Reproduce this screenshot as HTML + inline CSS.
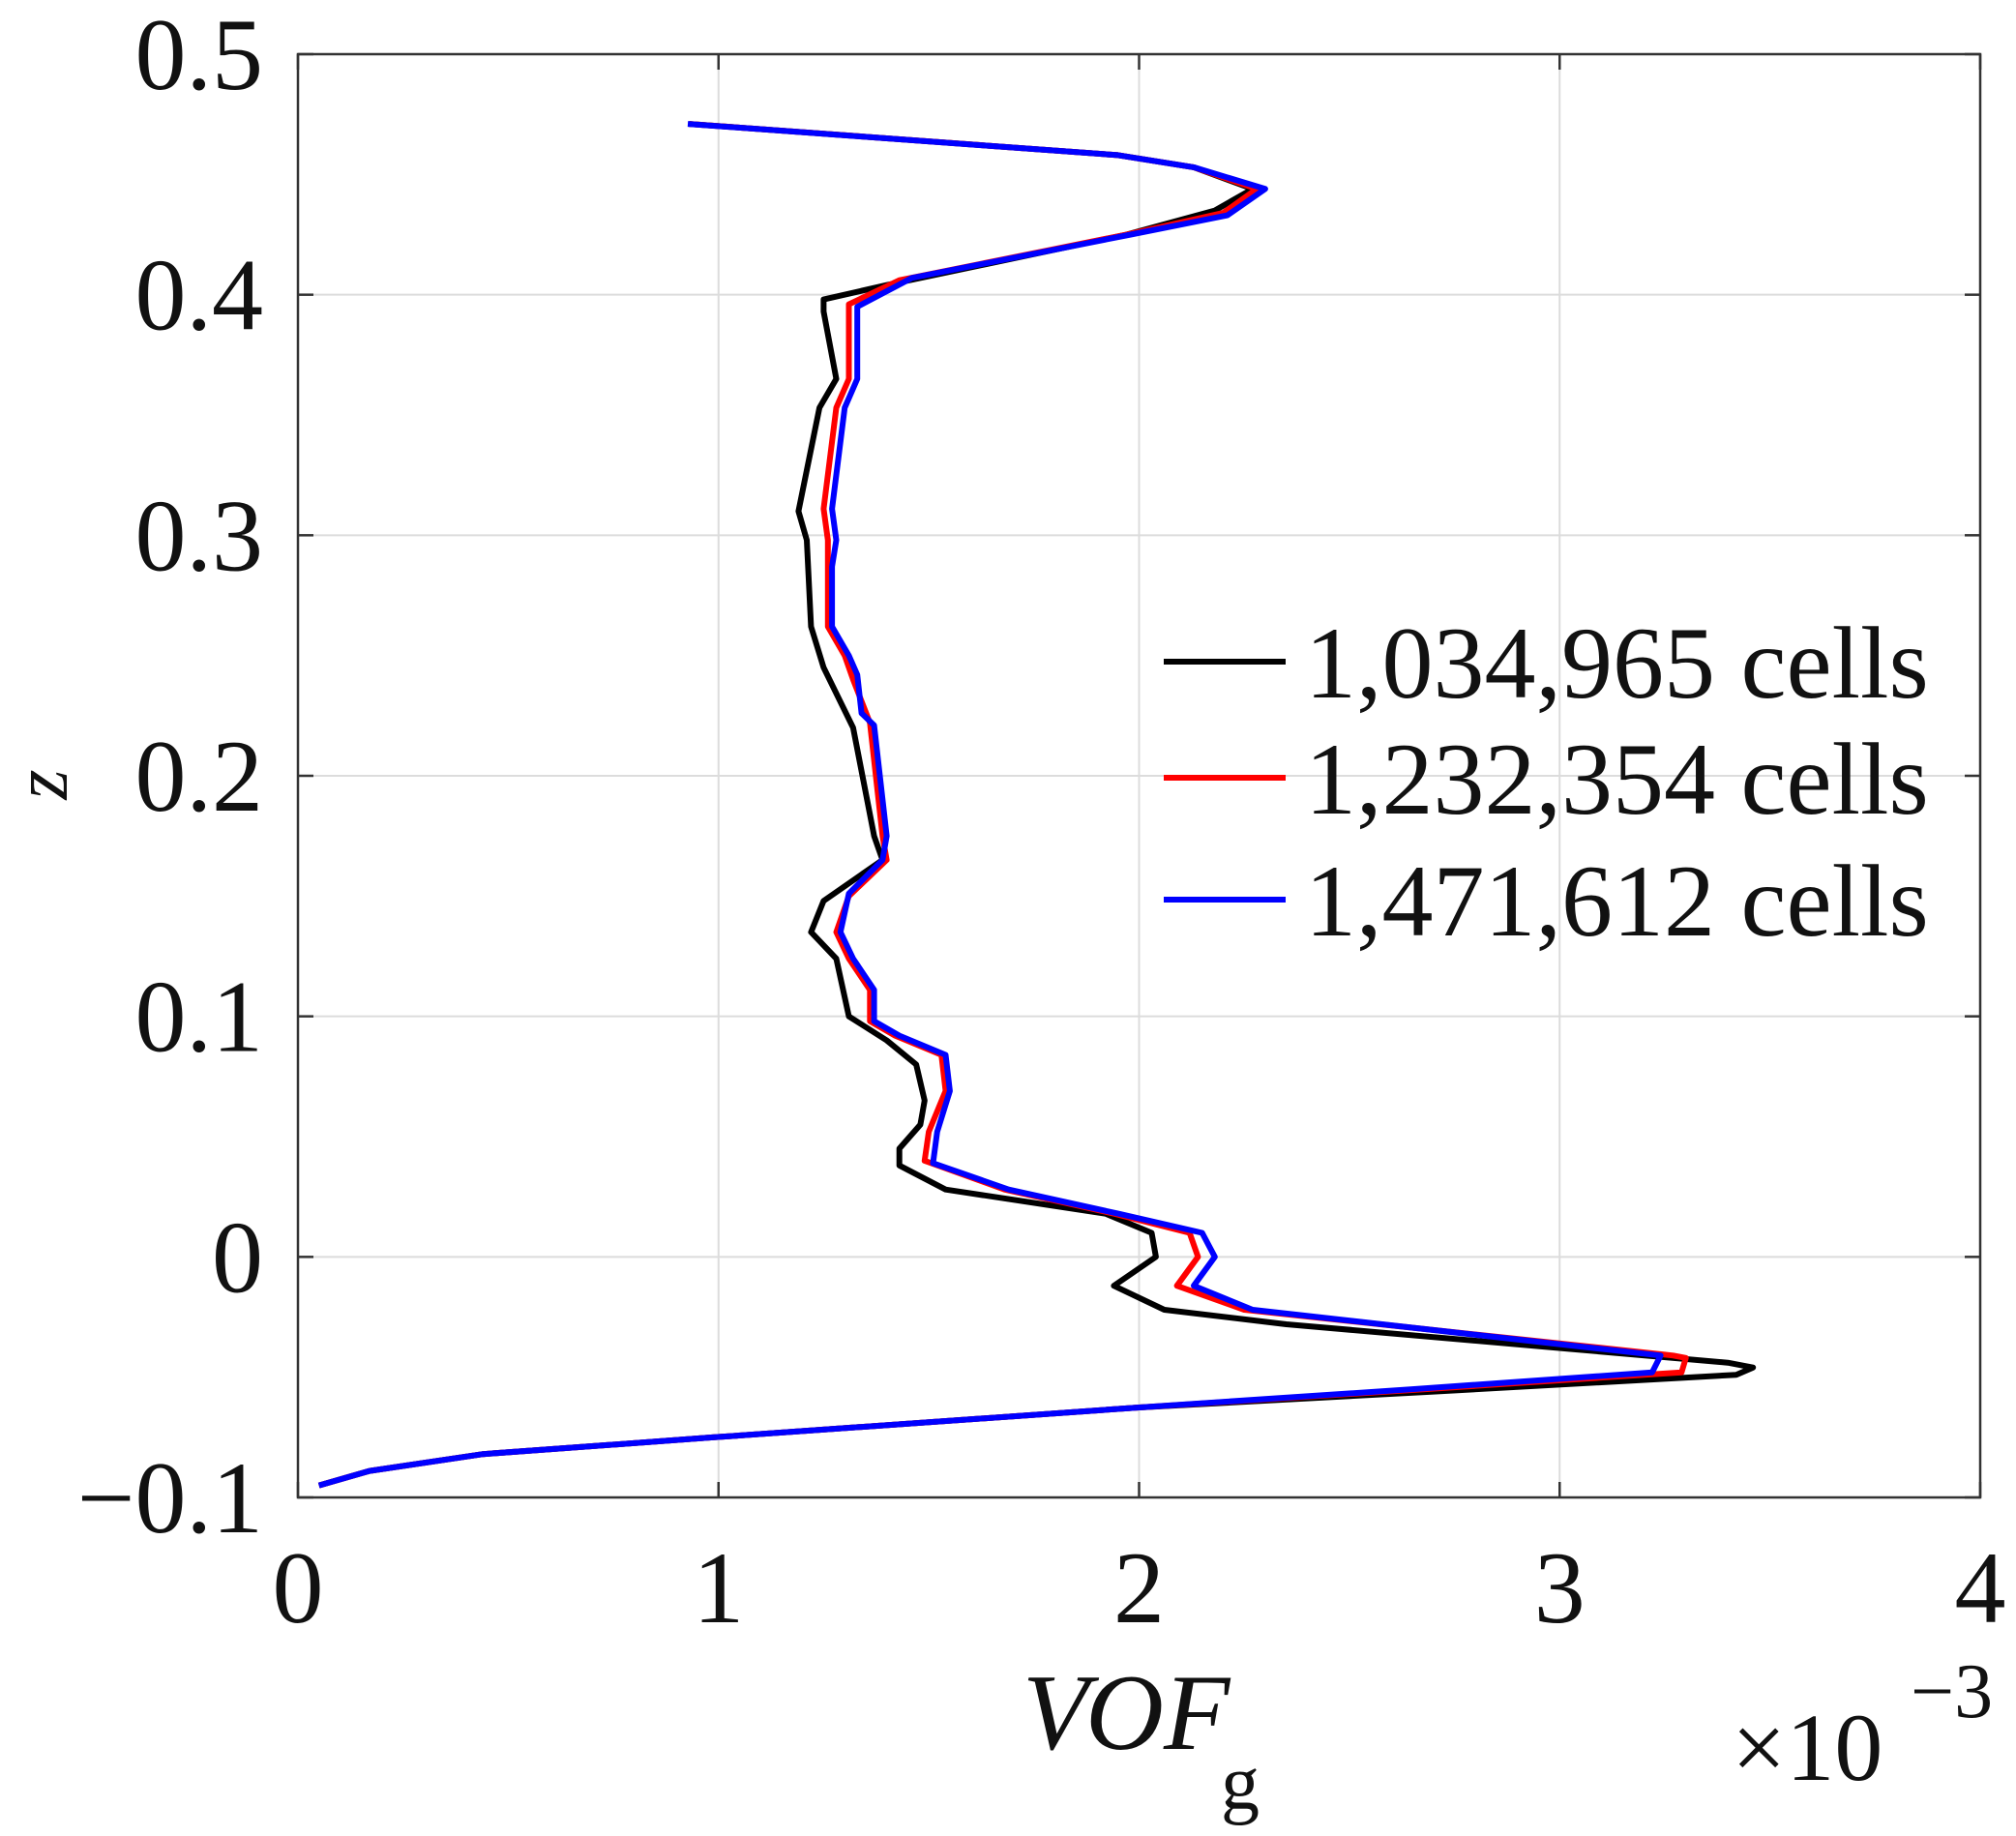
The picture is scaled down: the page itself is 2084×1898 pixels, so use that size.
<!DOCTYPE html>
<html><head><meta charset="utf-8"><style>
body{margin:0;background:#fff}
svg text{font-family:"Liberation Serif",serif;fill:#111}
</style></head><body>
<svg id="chart" width="2084" height="1893" viewBox="0 0 2084 1893" xmlns="http://www.w3.org/2000/svg">
<g id="grid"></g><g id="series"></g><g id="axes"></g><g id="legend"></g>
<text x="47" y="811" font-size="80" font-style="italic" text-anchor="middle" transform="rotate(-90 47 811)" dy="22">z</text>
<text x="1057" y="1808" font-size="112" font-style="italic">VOF</text>
<text x="1262" y="1870" font-size="80">g</text>
<text x="1790" y="1840" font-size="100">×10</text>
<text x="1975" y="1775" font-size="80">−3</text>
</svg>
<script>
const xTicks=[0,1,2,3,4];
const yTicks=[-0.1,0,0.1,0.2,0.3,0.4,0.5];
const yTickLabels=["\u22120.1","0","0.1","0.2","0.3","0.4","0.5"];
const seriesNames=["1,034,965 cells","1,232,354 cells","1,471,612 cells"];
const seriesColors=["#000","#f00","#00f"];
const blackX=[0.93,1.95,2.13,2.27,2.18,1.97,1.40,1.25,1.25,1.28,1.24,1.19,1.21,1.22,1.25,1.32,1.37,1.39,1.25,1.22,1.28,1.31,1.40,1.47,1.49,1.48,1.43,1.43,1.54,1.92,2.03,2.04,1.94,2.06,2.35,3.40,3.46,3.42,2.70,2.00,0.99,0.44,0.17,0.05];
const blackZ=[0.471,0.458,0.453,0.444,0.435,0.425,0.404,0.398,0.393,0.365,0.353,0.310,0.298,0.262,0.245,0.220,0.175,0.165,0.148,0.135,0.124,0.100,0.090,0.080,0.065,0.055,0.045,0.038,0.028,0.018,0.010,0.000,-0.012,-0.022,-0.028,-0.044,-0.046,-0.049,-0.056,-0.0626,-0.075,-0.082,-0.089,-0.095];
const redX=[0.93,1.95,2.13,2.28,2.20,1.97,1.43,1.31,1.31,1.31,1.28,1.25,1.26,1.26,1.30,1.32,1.36,1.39,1.40,1.31,1.28,1.31,1.36,1.36,1.42,1.53,1.54,1.50,1.49,1.68,1.94,2.12,2.14,2.09,2.25,3.27,3.30,3.29,2.68,2.00,0.99,0.44,0.17,0.05];
const redZ=[0.471,0.458,0.453,0.444,0.434,0.425,0.406,0.396,0.393,0.365,0.353,0.311,0.298,0.262,0.250,0.240,0.222,0.175,0.165,0.150,0.135,0.124,0.111,0.098,0.092,0.084,0.069,0.052,0.040,0.028,0.018,0.010,0.000,-0.012,-0.022,-0.041,-0.042,-0.048,-0.055,-0.0626,-0.075,-0.082,-0.089,-0.095];
const blueX=[0.927,1.95,2.13,2.30,2.21,1.98,1.46,1.33,1.33,1.30,1.27,1.28,1.27,1.27,1.31,1.33,1.34,1.37,1.40,1.39,1.31,1.29,1.32,1.37,1.37,1.43,1.54,1.55,1.52,1.51,1.69,1.95,2.15,2.18,2.13,2.27,3.24,3.22,2.65,2.00,0.99,0.44,0.17,0.05];
const blueZ=[0.471,0.458,0.453,0.444,0.433,0.425,0.407,0.395,0.365,0.353,0.311,0.298,0.287,0.262,0.250,0.242,0.226,0.221,0.175,0.165,0.151,0.135,0.124,0.111,0.098,0.092,0.084,0.069,0.052,0.039,0.028,0.018,0.010,0.000,-0.012,-0.022,-0.041,-0.048,-0.055,-0.0626,-0.075,-0.082,-0.089,-0.095];

const L=308,R=2047,T=56,B=1548,NS="http://www.w3.org/2000/svg";
const sx=v=>L+(v-0)/(4-0)*(R-L);
const sy=v=>B-(v+0.1)/(0.6)*(B-T);
function mk(tag,attrs,parent){const e=document.createElementNS(NS,tag);for(const k in attrs)e.setAttribute(k,attrs[k]);parent.appendChild(e);return e;}
const grid=document.getElementById('grid'),axes=document.getElementById('axes'),ser=document.getElementById('series'),leg=document.getElementById('legend');
xTicks.forEach(t=>{
 const g=mk('line',{x1:sx(t),x2:sx(t),y1:T,y2:B,stroke:'#dcdcdc','stroke-width':2},grid);
 
 
 mk('line',{x1:sx(t),x2:sx(t),y1:B,y2:B-16,stroke:'#333','stroke-width':2.5},axes);
 mk('line',{x1:sx(t),x2:sx(t),y1:T,y2:T+16,stroke:'#333','stroke-width':2.5},axes);
 const tx=mk('text',{x:sx(t),y:1677,'font-size':106,'text-anchor':'middle'},axes);
 tx.textContent=t;
 
 
});
yTicks.forEach((t,i)=>{
 const g=mk('line',{x1:L,x2:R,y1:sy(t),y2:sy(t),stroke:'#dcdcdc','stroke-width':2},grid);
 
 
 mk('line',{x1:L,x2:L+16,y1:sy(t),y2:sy(t),stroke:'#333','stroke-width':2.5},axes);
 mk('line',{x1:R,x2:R-16,y1:sy(t),y2:sy(t),stroke:'#333','stroke-width':2.5},axes);
 const tx=mk('text',{x:272,y:sy(t)+36,'font-size':106,'text-anchor':'end'},axes);
 tx.textContent=yTickLabels[i];
 
 
});
const fr=mk('rect',{x:L,y:T,width:R-L,height:B-T,fill:'none',stroke:'#333','stroke-width':2.5},axes);


const data=[[blackX,blackZ],[redX,redZ],[blueX,blueZ]];
const snames=['series-1034965-cells','series-1232354-cells','series-1471612-cells'];
data.forEach((d,i)=>{
 const pts=d[0].map((x,j)=>sx(x).toFixed(1)+','+sy(d[1][j]).toFixed(1)).join(' ');
 const p=mk('polyline',{points:pts,fill:'none',stroke:seriesColors[i],'stroke-width':6,'stroke-linejoin':'round'},ser);
 
 
});
const rows=[684,804,930];
seriesNames.forEach((n,i)=>{
 const l=mk('line',{x1:1203,x2:1329,y1:rows[i],y2:rows[i],stroke:seriesColors[i],'stroke-width':6},leg);
 
 
 const t=mk('text',{x:1349,y:rows[i]+37,'font-size':106},leg);
 t.textContent=n;
 
 
});
</script>
</body></html>
